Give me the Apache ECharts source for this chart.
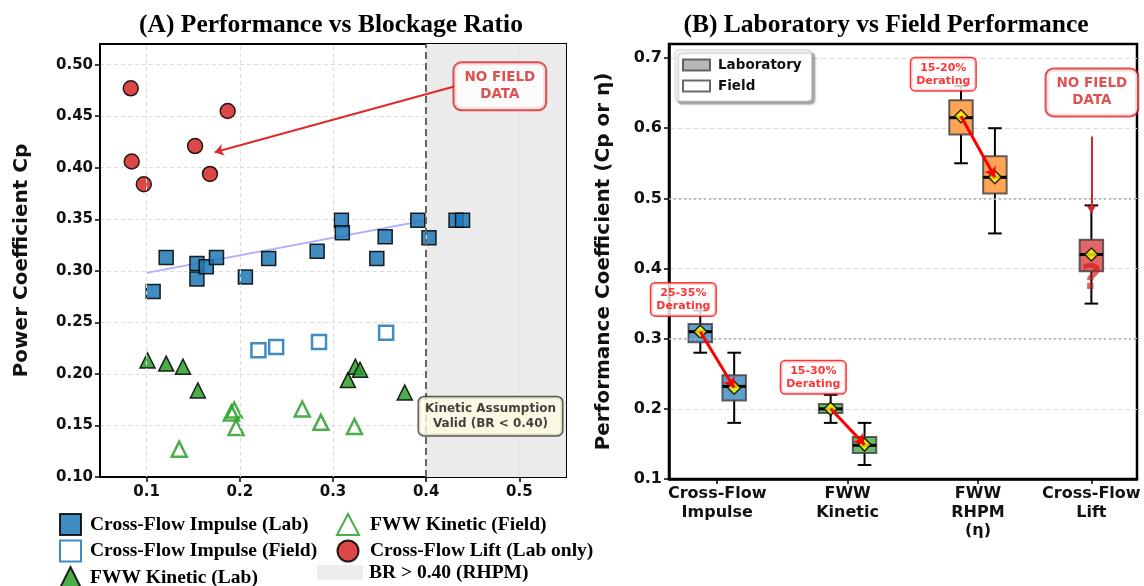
<!DOCTYPE html>
<html>
<head>
<meta charset="utf-8">
<script src="https://cdn.jsdelivr.net/npm/echarts@6/dist/echarts.min.js"></script>
<style>
html,body{margin:0;padding:0;background:#fff;}
#c{width:1144px;height:586px;}
</style>
</head>
<body>
<div id="c"></div>
<script>
// ---------- Panel A data ----------
const cfImpulseLab = [[0.107,0.280],[0.121,0.313],[0.154,0.307],[0.154,0.292],[0.164,0.304],[0.175,0.313],[0.206,0.294],[0.231,0.312],[0.283,0.319],[0.309,0.349],[0.310,0.337],[0.347,0.312],[0.356,0.333],[0.391,0.349],[0.403,0.332],[0.432,0.349],[0.439,0.349]];
const cfImpulseField = [[0.220,0.223],[0.239,0.226],[0.285,0.231],[0.357,0.240]];
const fwwKineticLab = [[0.101,0.213],[0.121,0.210],[0.139,0.207],[0.155,0.184],[0.316,0.194],[0.324,0.207],[0.329,0.204],[0.377,0.182]];
const fwwKineticField = [[0.135,0.127],[0.191,0.162],[0.194,0.165],[0.196,0.148],[0.267,0.166],[0.287,0.153],[0.323,0.149]];
const cfLiftLab = [[0.083,0.477],[0.084,0.406],[0.097,0.384],[0.152,0.421],[0.168,0.394],[0.187,0.455]];
const trendX = [0.10, 0.40];
const trendY = [0.298, 0.349];
const xTicksA = [0.1,0.2,0.3,0.4,0.5];
const yTicksA = [0.10,0.15,0.20,0.25,0.30,0.35,0.40,0.45,0.50];
const brThreshold = 0.40;
const brMax = 0.55;
const noFieldA = {text:'NO FIELD\nDATA', pos:[0.479,0.479], from:[0.431,0.479], to:[0.173,0.415]};
const kineticNote = {text:'Kinetic Assumption\nValid (BR < 0.40)', pos:[0.469,0.159]};
const seriesNamesA = ['Cross-Flow Impulse (Lab)','Cross-Flow Impulse (Field)','FWW Kinetic (Lab)','FWW Kinetic (Field)','Cross-Flow Lift (Lab only)','BR > 0.40 (RHPM)'];

// ---------- Panel B data ----------
const boxCats = ['Cross-Flow\nImpulse','FWW\nKinetic','FWW\nRHPM\n(η)','Cross-Flow\nLift'];
const tickPosB = [0,1,2,2.87];
const labPos = [-0.13,0.87,1.87,2.87];
const fieldPos = [0.13,1.13,2.13];
// [low whisker, Q1, median, Q3, high whisker]
const labStats = [[0.28,0.295,0.31,0.321,0.34],[0.18,0.194,0.20,0.207,0.22],[0.55,0.591,0.615,0.64,0.66],[0.35,0.396,0.42,0.441,0.49]];
const fieldStats = [[0.18,0.212,0.232,0.248,0.28],[0.12,0.137,0.148,0.160,0.18],[0.45,0.507,0.53,0.56,0.60]];
const labMeans = [0.31,0.20,0.617,0.42];
const fieldMeans = [0.23,0.149,0.53];
const boxColors = ['#629fca','#6bbc6b','#ffa556','#e26768'];
const deratingText = ['25-35%\nDerating','15-30%\nDerating','15-20%\nDerating'];
const deratingPos = [[-0.26,0.356],[0.737,0.245],[1.734,0.677]];
const refLinesB = [0.3,0.5];
const yTicksB = [0.1,0.2,0.3,0.4,0.5,0.6,0.7];
const noFieldB = {text:'NO FIELD\nDATA', pos:[2.874,0.651], from:[2.87,0.588], to:[2.87,0.479], q:[2.87,0.384]};

const boxW = 0.18;
const sans = 'DejaVu Sans';
const serif = 'Liberation Serif';

const chart = echarts.init(document.getElementById('c'), null, {renderer:'canvas'});

const boxData = [];
labStats.forEach((s,i)=>boxData.push([labPos[i]].concat(s,[i])));
fieldStats.forEach((s,i)=>boxData.push([fieldPos[i]].concat(s,[i])));

const meanData = labMeans.map((m,i)=>[labPos[i],m]).concat(fieldMeans.map((m,i)=>[fieldPos[i],m]));
const arrowData = fieldMeans.map((m,i)=>[{coord:[labPos[i],labMeans[i]]},{coord:[fieldPos[i],m]}]);

const markerBorder = {borderColor:'#000', borderWidth:1.5, opacity:0.85};
const legendText = {fontFamily:serif, fontWeight:'bold', fontSize:19.5, color:'#000', lineHeight:21};

const option = {
  animation:false,
  backgroundColor:'#fff',
  graphic:[
    {type:'text', style:{text:'(A) Performance vs Blockage Ratio', x:331, y:25, textAlign:'center', textVerticalAlign:'middle', font:'bold 25.5px "Liberation Serif"', fill:'#000'}},
    {type:'text', style:{text:'(B) Laboratory vs Field Performance', x:886, y:25, textAlign:'center', textVerticalAlign:'middle', font:'bold 25.5px "Liberation Serif"', fill:'#000'}}
  ],
  grid:[
    {left:100, top:44, width:466, height:433, show:true, borderColor:'#000', borderWidth:2, backgroundColor:'transparent'},
    {left:669, top:44, width:468, height:435, show:true, borderColor:'#000', borderWidth:2.5, backgroundColor:'transparent'}
  ],
  legend:[
    {data:seriesNamesA.slice(0,3), orient:'vertical', left:59, top:513, height:90, padding:0, itemWidth:21, itemHeight:21, itemGap:3.5,
     textStyle:Object.assign({padding:[0,0,0,4]}, legendText)},
    {data:seriesNamesA.slice(3,5), orient:'vertical', left:336, top:513, height:90, padding:0, itemWidth:22, itemHeight:21, itemGap:3.5,
     textStyle:Object.assign({padding:[0,0,0,6]}, legendText)},
    {data:[seriesNamesA[5]], orient:'vertical', left:317, top:562, height:40, padding:0, itemWidth:46, itemHeight:15, icon:'rect',
     textStyle:Object.assign({padding:[0,0,0,1]}, legendText)},
    {data:['Laboratory','Field'], orient:'vertical', left:675, top:50, itemWidth:27, itemHeight:11, itemGap:5, icon:'rect',
     backgroundColor:'#fff', borderColor:'#ccc', borderWidth:1, borderRadius:4, padding:[7,10,7,7],
     shadowColor:'rgba(0,0,0,0.35)', shadowOffsetX:3, shadowOffsetY:3, shadowBlur:2,
     textStyle:{fontFamily:sans, fontWeight:'bold', fontSize:13.5, color:'#111', lineHeight:16, padding:[0,0,0,3]}}
  ],
  xAxis:[
    {gridIndex:0, type:'value', min:0.05, max:brMax,
     axisLine:{show:true, onZero:false, lineStyle:{color:'#000', width:2}},
     axisTick:{show:true, customValues:xTicksA, length:5, lineStyle:{color:'#000', width:1.5}},
     axisLabel:{customValues:xTicksA, formatter:v=>v.toFixed(1), fontFamily:sans, fontWeight:'bold', fontSize:15, color:'#111', margin:8},
     splitLine:{show:false}},
    {gridIndex:1, type:'value', min:-0.37, max:3.22,
     axisLine:{show:true, onZero:false, lineStyle:{color:'#000', width:2.5}},
     axisTick:{show:true, customValues:tickPosB, length:5, lineStyle:{color:'#000', width:1.5}},
     axisLabel:{customValues:tickPosB, formatter:v=>{let k=0,b=1e9;tickPosB.forEach((p,i)=>{if(Math.abs(p-v)<b){b=Math.abs(p-v);k=i;}});return boxCats[k];},
       fontFamily:sans, fontWeight:'bold', fontSize:16, lineHeight:18.5, color:'#111', margin:6, verticalAlign:'top'},
     splitLine:{show:false}}
  ],
  yAxis:[
    {gridIndex:0, type:'value', min:0.10, max:0.52, interval:0.05,
     name:'Power Coefficient Cp', nameLocation:'middle', nameGap:68, nameRotate:90,
     nameTextStyle:{fontFamily:sans, fontWeight:'bold', fontSize:20, color:'#111'},
     axisLine:{show:true, onZero:false, lineStyle:{color:'#000', width:2}},
     axisTick:{show:true, customValues:yTicksA, length:5, lineStyle:{color:'#000', width:1.5}},
     axisLabel:{customValues:yTicksA, formatter:v=>v.toFixed(2), fontFamily:sans, fontWeight:'bold', fontSize:15, color:'#111', margin:7},
     splitLine:{show:true, lineStyle:{color:'#dcdcdc', type:[4,3], width:1}}},
    {gridIndex:1, type:'value', min:0.1, max:0.72, interval:0.1,
     name:'Performance Coefficient (Cp or η)', nameLocation:'middle', nameGap:55, nameRotate:90,
     nameTextStyle:{fontFamily:sans, fontWeight:'bold', fontSize:20, color:'#111'},
     axisLine:{show:true, onZero:false, lineStyle:{color:'#000', width:2.5}},
     axisTick:{show:true, customValues:yTicksB, length:5, lineStyle:{color:'#000', width:1.5}},
     axisLabel:{customValues:yTicksB, formatter:v=>v.toFixed(1), fontFamily:sans, fontWeight:'bold', fontSize:16, color:'#111', margin:7},
     splitLine:{show:true, lineStyle:{color:'#dcdcdc', type:[5,3], width:1}}}
  ],
  series:[
    {name:seriesNamesA[5], type:'scatter', xAxisIndex:0, yAxisIndex:0, data:[], symbol:'rect',
     itemStyle:{color:'#e8e8e8'}, z:1,
     markArea:{silent:true, itemStyle:{color:'#ebebeb'}, data:[[{xAxis:brThreshold},{xAxis:brMax}]]},
     markLine:{silent:true, symbol:['none','none'], label:{show:false},
       data:xTicksA.map(v=>({xAxis:v, lineStyle:{color:'#dcdcdc', type:[4,3], width:1}})).concat([{xAxis:brThreshold, lineStyle:{color:'#666', type:[7,4], width:2}}])}},
    {name:'trend', type:'line', xAxisIndex:0, yAxisIndex:0, data:trendX.map((x,i)=>[x,trendY[i]]), symbol:'none',
     lineStyle:{color:'#b0b0ff', width:2}, z:2, silent:true},
    {name:seriesNamesA[0], type:'scatter', xAxisIndex:0, yAxisIndex:0, data:cfImpulseLab, symbol:'rect', symbolSize:14,
     itemStyle:Object.assign({color:'#1f77b4'}, markerBorder), z:3},
    {name:seriesNamesA[1], type:'scatter', xAxisIndex:0, yAxisIndex:0, data:cfImpulseField, symbol:'rect', symbolSize:14,
     itemStyle:{color:'rgba(255,255,255,0)', borderColor:'#1f77b4', borderWidth:2.5, opacity:0.85}, z:3},
    {name:seriesNamesA[2], type:'scatter', xAxisIndex:0, yAxisIndex:0, data:fwwKineticLab, symbol:'triangle', symbolSize:15,
     itemStyle:Object.assign({color:'#2ca02c'}, markerBorder), z:3},
    {name:seriesNamesA[3], type:'scatter', xAxisIndex:0, yAxisIndex:0, data:fwwKineticField, symbol:'triangle', symbolSize:15,
     itemStyle:{color:'rgba(255,255,255,0)', borderColor:'#2ca02c', borderWidth:2.5, opacity:0.85}, z:3},
    {name:seriesNamesA[4], type:'scatter', xAxisIndex:0, yAxisIndex:0, data:cfLiftLab, symbol:'circle', symbolSize:15,
     itemStyle:Object.assign({color:'#d62728'}, markerBorder), z:3},
    {name:'annA', type:'scatter', xAxisIndex:0, yAxisIndex:0, symbolSize:0, silent:true, z:6,
     data:[
       {value:noFieldA.pos, label:{show:true, position:'inside', formatter:noFieldA.text, align:'center', color:'#d62728', fontFamily:sans, fontWeight:'bold', fontSize:13.5, lineHeight:17,
         backgroundColor:'#fff', borderColor:'#d62728', borderWidth:2, borderRadius:7, padding:[6,10]}},
       {value:kineticNote.pos, label:{show:true, position:'inside', formatter:kineticNote.text, align:'center', color:'#111', fontFamily:sans, fontWeight:'bold', fontSize:12, lineHeight:15,
         backgroundColor:'#fffde1', borderColor:'#333', borderWidth:1.5, borderRadius:5, padding:[4,6]}}
     ],
     markLine:{silent:true, symbol:['none','arrow'], symbolSize:9, label:{show:false},
       lineStyle:{color:'#dd2a2a', width:2, type:'solid'},
       data:[[{coord:noFieldA.from},{coord:noFieldA.to}]]}},

    // ---------- Panel B ----------
    {name:'Laboratory', type:'scatter', xAxisIndex:1, yAxisIndex:1, data:[], symbol:'rect',
     itemStyle:{color:'#a6a6a6', borderColor:'#444', borderWidth:1.5}},
    {name:'Field', type:'scatter', xAxisIndex:1, yAxisIndex:1, data:[], symbol:'rect',
     itemStyle:{color:'#fff', borderColor:'#444', borderWidth:1.5}},
    {name:'refs', type:'line', xAxisIndex:1, yAxisIndex:1, data:[], z:1,
     markLine:{silent:true, symbol:['none','none'], label:{show:false},
       lineStyle:{color:'#aaa', type:[2,3], width:1.5},
       data:refLinesB.map(v=>({yAxis:v}))}},
    {name:'boxes', type:'custom', xAxisIndex:1, yAxisIndex:1, data:boxData, z:2, silent:true,
     encode:{x:0, y:[1,2,3,4,5]},
     renderItem:function(params, api){
       const x = api.value(0);
       const c = i => api.coord([x, api.value(i)]);
       const lo=c(1), q1=c(2), md=c(3), q3=c(4), hi=c(5);
       const w = api.size([boxW,0])[0];
       const cw = w*0.58;
       const cx = lo[0];
       const col = boxColors[api.value(6)];
       const ls = {stroke:'#000', lineWidth:2};
       return {type:'group', children:[
         {type:'line', shape:{x1:cx,y1:q1[1],x2:cx,y2:lo[1]}, style:ls},
         {type:'line', shape:{x1:cx,y1:q3[1],x2:cx,y2:hi[1]}, style:ls},
         {type:'line', shape:{x1:cx-cw/2,y1:lo[1],x2:cx+cw/2,y2:lo[1]}, style:ls},
         {type:'line', shape:{x1:cx-cw/2,y1:hi[1],x2:cx+cw/2,y2:hi[1]}, style:ls},
         {type:'rect', shape:{x:cx-w/2,y:q3[1],width:w,height:q1[1]-q3[1]}, style:{fill:col, stroke:'rgba(60,60,60,0.8)', lineWidth:2}},
         {type:'line', shape:{x1:cx-w/2,y1:md[1],x2:cx+w/2,y2:md[1]}, style:{stroke:'#000', lineWidth:3}}
       ]};
     }},
    {name:'arrows', type:'line', xAxisIndex:1, yAxisIndex:1, data:[], z:3,
     markLine:{silent:true, symbol:['none','arrow'], symbolSize:10, label:{show:false},
       lineStyle:{color:'#ff0000', width:3, type:'solid'}, data:arrowData}},
    {name:'means', type:'scatter', xAxisIndex:1, yAxisIndex:1, data:meanData, symbol:'diamond', symbolSize:13, z:4, silent:true,
     itemStyle:{color:'#ffff00', borderColor:'#000', borderWidth:1.5}},
    {name:'annB', type:'scatter', xAxisIndex:1, yAxisIndex:1, symbolSize:0, silent:true, z:6,
     data:deratingText.map((t,i)=>({value:deratingPos[i], label:{show:true, position:'inside', formatter:t, align:'center', color:'#ff0000',
         fontFamily:sans, fontWeight:'bold', fontSize:11, lineHeight:13, backgroundColor:'#fff', borderColor:'#ff0000', borderWidth:1.5, borderRadius:4, padding:[3,5]}}))
       .concat([
         {value:noFieldB.pos, label:{show:true, position:'inside', formatter:noFieldB.text, align:'center', color:'#d62728', fontFamily:sans, fontWeight:'bold', fontSize:13.5, lineHeight:17,
           backgroundColor:'#fff', borderColor:'#d62728', borderWidth:2, borderRadius:7, padding:[6,10]}},
         {value:noFieldB.q, label:{show:true, position:'inside', formatter:'?', align:'center', color:'rgba(200,30,30,0.85)', fontFamily:sans, fontWeight:'bold', fontSize:36}}
       ]),
     markLine:{silent:true, symbol:['none','arrow'], symbolSize:8, label:{show:false},
       lineStyle:{color:'#d62728', width:2, type:'solid'},
       data:[[{coord:noFieldB.from},{coord:noFieldB.to}]]}}
  ]
};
chart.setOption(option);
</script>
</body>
</html>
